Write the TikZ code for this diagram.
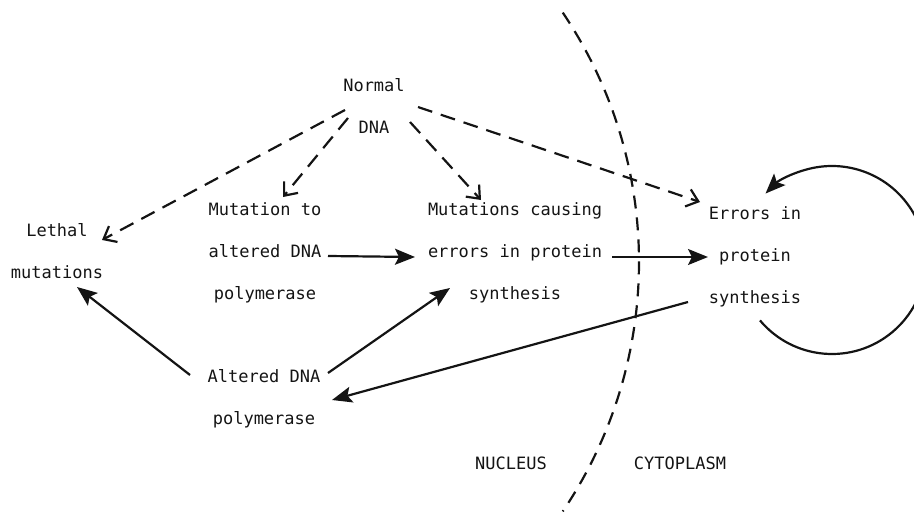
\documentclass[tikz,border=0pt]{standalone}
\usepackage{fontspec}
\setmonofont{DejaVu Sans Mono}
\usetikzlibrary{calc,arrows.meta}
\definecolor{ink}{HTML}{141414}
\tikzset{
  lab/.style={text=ink, font=\ttfamily\fontsize{17}{42}\selectfont, align=center, inner sep=0pt},
  dsh/.style={draw=ink, line width=2.2pt, dash pattern=on 15pt off 9pt, -{Straight Barb[length=11pt,width=18pt]}},
  sld/.style={draw=ink, line width=2.2pt, -{Stealth[length=20pt,width=16pt,inset=4pt]}},
  memb/.style={draw=ink, line width=2.2pt, dash pattern=on 13pt off 9pt},
}
\begin{document}
\begin{tikzpicture}[x=1pt,y=-1pt]
  \useasboundingbox (0,0) rectangle (914,514);
  \clip (0,0) rectangle (914,514);

  \node[lab] (normal) at (374,106) {Normal\\DNA};
  \node[lab] (lethal) at (57,251) {Lethal\\mutations};
  \node[lab] (mut) at (265,253) {Mutation to\\altered DNA\\polymerase};
  \node[lab] (cause) at (515,253) {Mutations causing\\errors in protein\\synthesis};
  \node[lab] (errors) at (755,257) {Errors in\\protein\\synthesis};
  \node[lab] (alt) at (264,399) {Altered DNA\\polymerase};
  \node[lab] (nuc) at (511,463) {NUCLEUS};
  \node[lab] (cyt) at (680,463) {CYTOPLASM};

  % nuclear membrane
  \draw[memb] (193,262) ++(-34:446) arc[start angle=-34, end angle=34, radius=446];

  \draw[dsh] ($(normal.center)+(-29,4)$) -- ($(lethal.center)+(45,-11)$);
  \draw[dsh] ($(normal.center)+(-26,12)$) -- ($(mut.center)+(18,-56)$);
  \draw[dsh] ($(normal.center)+(36,16)$) -- ($(cause.center)+(-34,-53)$);
  \draw[dsh] ($(normal.center)+(44,1)$) -- ($(errors.center)+(-55,-55)$);

  \draw[sld] ($(mut.center)+(63,3)$) -- ($(cause.center)+(-100,4)$);
  \draw[sld] ($(cause.center)+(97,4)$) -- ($(errors.center)+(-47,0)$);
  \draw[sld] ($(alt.center)+(-74,-24)$) -- ($(lethal.center)+(20,36)$);
  \draw[sld] ($(alt.center)+(64,-26)$) -- ($(cause.center)+(-65,35)$);
  \draw[sld] ($(errors.center)+(-67,45)$) -- ($(alt.center)+(68,1)$);

  % self loop
  \coordinate (loopc) at ($(errors.center)+(77,3)$);
  \draw[sld] (loopc) ++(140:94) arc[start angle=140, end angle=-135, radius=94];
\end{tikzpicture}
\end{document}
